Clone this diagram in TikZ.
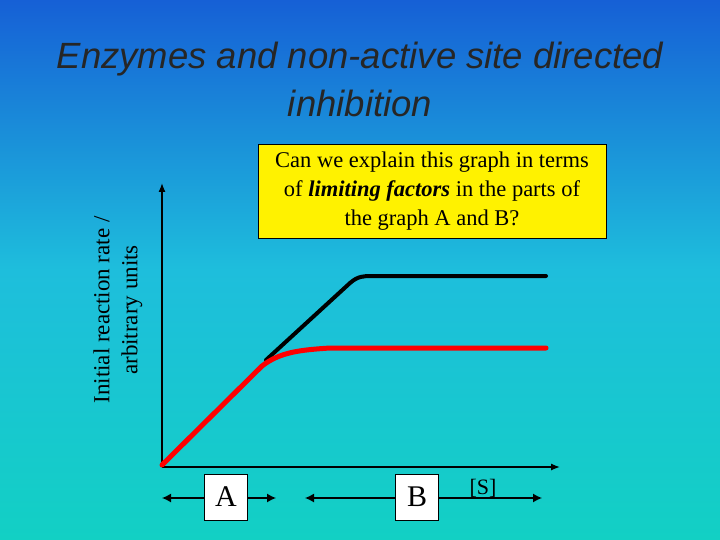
\documentclass[tikz,border=0pt]{standalone}
\usepackage{fontspec}
\usetikzlibrary{arrows.meta}
\setmainfont{Liberation Serif}
\newfontfamily\titlefont{Liberation Sans}
\begin{document}
\begin{tikzpicture}[x=1pt,y=-1pt,
  ax/.style={line width=1.3pt,-{Latex[length=9pt,width=7pt]}},
  dbl/.style={line width=1.3pt,{Latex[length=9pt,width=9pt]}-{Latex[length=9pt,width=9pt]}},
  lbl/.style={draw=black,fill=white,minimum width=43pt,minimum height=46pt,font=\fontsize{30}{30}\selectfont,inner sep=0pt}]
\shade[top color={rgb,255:red,22;green,96;blue,214},bottom color={rgb,255:red,18;green,208;blue,196},middle color={rgb,255:red,30;green,190;blue,220}] (0,0) rectangle (720,540);
\useasboundingbox (0,0) rectangle (720,540);
\node[font=\titlefont\itshape\fontsize{36.5}{48}\selectfont,align=center,text=black!85] (title) at (360,79) {Enzymes and non-active site directed\\inhibition};
\node[font=\fontsize{23}{28}\selectfont,align=center,rotate=90] (ylab) at (118,310) {Initial reaction rate /\\arbitrary units};
\coordinate (o) at (162,467);
\coordinate (xe) at (560,467);
\coordinate (ye) at (162,183);
\draw[ax] (o) -- (xe);
\draw[ax] (o) -- (ye);
\node[draw=black,fill=yellow,minimum width=348pt,minimum height=94pt,align=center,font=\fontsize{22.5}{29}\selectfont,inner sep=0pt] (q) at (432,191) {Can we explain this graph in terms\\of \textbf{\textit{limiting factors}} in the parts of\\the graph A and B?};
\draw[line width=4pt,line cap=round] (266,360) -- (350,283) .. controls (358,276) and (364,276) .. (372,276) -- (546,276);
\draw[line width=5pt,red,line cap=round] (162,465) -- (262,366) .. controls (280,352) and (300,350) .. (330,348) -- (546,348);
\coordinate (a1) at (162,498); \coordinate (a2) at (276,498);
\coordinate (b1) at (305,498); \coordinate (b2) at (542,498);
\draw[dbl] (a1) -- (a2);
\draw[dbl] (b1) -- (b2);
\node[lbl] (A) at (226,497) {A};
\node[lbl] (B) at (417,497) {B};
\node[font=\fontsize{22}{22}\selectfont] (S) at (483,488) {[S]};
\end{tikzpicture}
\end{document}
